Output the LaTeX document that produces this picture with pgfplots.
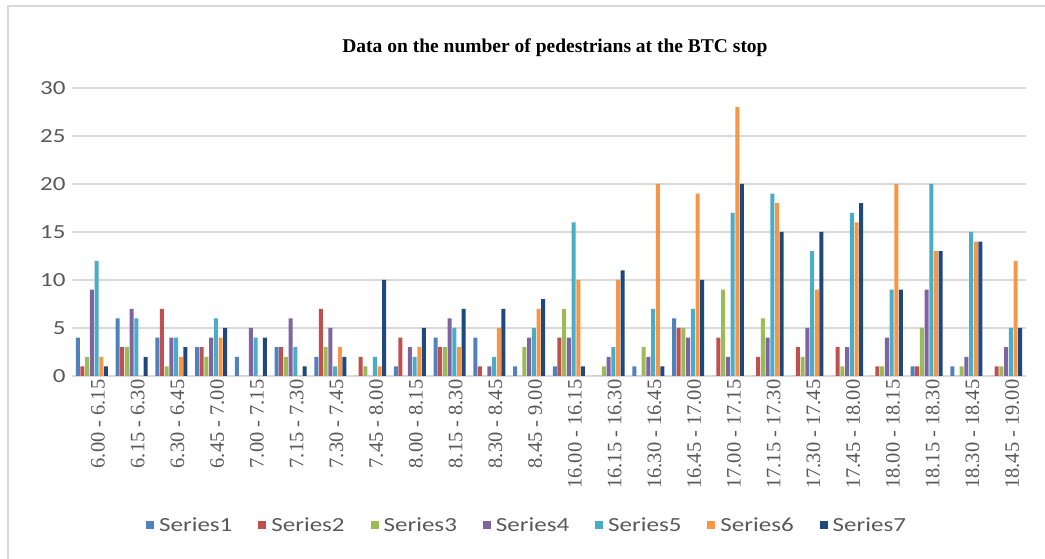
\documentclass[border=0pt]{standalone}
\usepackage{fontspec}
\setmainfont{Liberation Serif}
\newfontfamily\calib[FakeStretch=1.25]{Carlito}
\usepackage{pgfplots}
\usepackage{pgfplotstable}
\pgfplotsset{compat=1.18}
\definecolor{sA}{HTML}{4F81BD}
\definecolor{sB}{HTML}{C0504D}
\definecolor{sC}{HTML}{9BBB59}
\definecolor{sD}{HTML}{8064A2}
\definecolor{sE}{HTML}{4BACC6}
\definecolor{sF}{HTML}{F79646}
\definecolor{sG}{HTML}{1F497D}
\definecolor{txtgray}{HTML}{595959}
\definecolor{gridgray}{HTML}{D9D9D9}

\pgfplotstableread{
x s1 s2 s3 s4 s5 s6 s7
0 4 1 2 9 12 2 1
1 6 3 3 7 6 0 2
2 4 7 1 4 4 2 3
3 3 3 2 4 6 4 5
4 2 0 0 5 4 0 4
5 3 3 2 6 3 0 1
6 2 7 3 5 1 3 2
7 0 2 1 0 2 1 10
8 1 4 0 3 2 3 5
9 4 3 3 6 5 3 7
10 4 1 0 1 2 5 7
11 1 0 3 4 5 7 8
12 1 4 7 4 16 10 1
13 0 0 1 2 3 10 11
14 1 0 3 2 7 20 1
15 6 5 5 4 7 19 10
16 0 4 9 2 17 28 20
17 0 2 6 4 19 18 15
18 0 3 2 5 13 9 15
19 0 3 1 3 17 16 18
20 0 1 1 4 9 20 9
21 1 1 5 9 20 13 13
22 1 0 1 2 15 14 14
23 0 1 1 3 5 12 5
}\datatable

\begin{document}
\begin{tikzpicture}[x=1pt,y=1pt]
\begin{axis}[
  at={(72pt,183pt)}, anchor=south west,
  scale only axis, width=954pt, height=288pt,
  ybar=0.7pt, bar width=4pt,
  xmin=-0.5, xmax=23.5, ymin=0, ymax=30,
  ytick={0,5,...,30},
  xtick={0,...,23},
  xticklabels={6.00 - 6.15,6.15 - 6.30,6.30 - 6.45,6.45 - 7.00,7.00 - 7.15,7.15 - 7.30,7.30 - 7.45,7.45 - 8.00,8.00 - 8.15,8.15 - 8.30,8.30 - 8.45,8.45 - 9.00,16.00 - 16.15,16.15 - 16.30,16.30 - 16.45,16.45 - 17.00,17.00 - 17.15,17.15 - 17.30,17.30 - 17.45,17.45 - 18.00,18.00 - 18.15,18.15 - 18.30,18.30 - 18.45,18.45 - 19.00},
  xticklabel style={rotate=90, anchor=east, font=\fontsize{20.5}{20.5}\selectfont, text=txtgray, yshift=-6pt},
  yticklabel style={font=\calib\fontsize{20}{20}\selectfont, text=txtgray, xshift=-3pt},
  /pgf/number format/assume math mode=true,
  ymajorgrids, grid style={gridgray, line width=1.5pt},
  axis line style={draw=none},
  major tick length=0pt, tick style={draw=none},
  legend columns=7,
  legend style={at={(0.477,-0.517)}, anchor=center, draw=none, fill=none,
    font=\calib\fontsize{20}{20}\selectfont, text=txtgray,
    /tikz/every even column/.append style={column sep=24pt},
    /tikz/every odd column/.append style={column sep=3pt}},
  legend image code/.code={\fill[#1] (0pt,-4pt) rectangle (8pt,4pt);},
]
\addplot[fill=sA, draw=none] table[x=x, y=s1] {\datatable};
\addplot[fill=sB, draw=none] table[x=x, y=s2] {\datatable};
\addplot[fill=sC, draw=none] table[x=x, y=s3] {\datatable};
\addplot[fill=sD, draw=none] table[x=x, y=s4] {\datatable};
\addplot[fill=sE, draw=none] table[x=x, y=s5] {\datatable};
\addplot[fill=sF, draw=none] table[x=x, y=s6] {\datatable};
\addplot[fill=sG, draw=none] table[x=x, y=s7] {\datatable};
\legend{Series1,Series2,Series3,Series4,Series5,Series6,Series7}
\end{axis}
\node[font=\bfseries\fontsize{19.5}{19.5}\selectfont] at (555pt,511pt) {Data on the number of pedestrians at the BTC stop};
\draw[gridgray, line width=1.5pt] (8pt,0pt) -- (8pt,553pt) -- (1045pt,553pt);
\pgfresetboundingbox
\path[use as bounding box] (0pt,0pt) rectangle (1045pt,559pt);
\end{tikzpicture}
\end{document}
